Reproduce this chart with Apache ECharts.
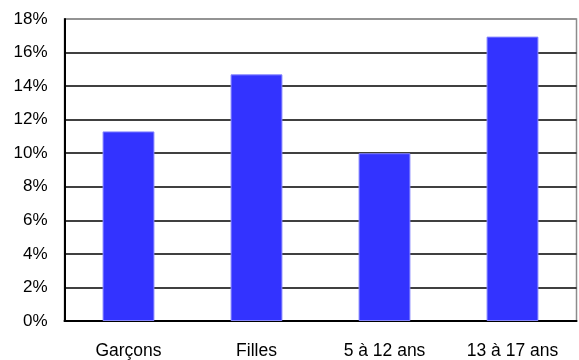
<!DOCTYPE html>
<html>
<head>
<meta charset="utf-8">
<script src="https://cdn.jsdelivr.net/npm/echarts@6/dist/echarts.min.js"></script>
<style>html,body{margin:0;padding:0;background:#fff}#c{width:579px;height:360px}</style>
</head>
<body>
<div id="c"></div>
<script>
const categories = ['Garçons', 'Filles', '5 à 12 ans', '13 à 17 ans'];
const values = [11.3, 14.7, 10.0, 16.95];
const yTicks = [0, 2, 4, 6, 8, 10, 12, 14, 16, 18];

const chart = echarts.init(document.getElementById('c'), null, {renderer: 'canvas'});
const font = 'Arial, "Liberation Sans", sans-serif';
const gridColors = yTicks.map((t, i) => i === yTicks.length - 1 ? '#8c8c8c' : '#000000');
chart.setOption({
  animation: false,
  backgroundColor: '#ffffff',
  grid: {
    left: 64.5, right: 2.5, top: 19, bottom: 36.5,
    show: true, borderColor: '#8c8c8c', borderWidth: 1.5, backgroundColor: 'transparent'
  },
  xAxis: {
    type: 'category',
    data: categories,
    axisLine: {show: true, lineStyle: {color: '#000', width: 2}},
    axisTick: {show: false},
    axisLabel: {color: '#000', fontSize: 17.5, fontFamily: font, margin: 21}
  },
  yAxis: {
    type: 'value',
    min: yTicks[0], max: yTicks[yTicks.length - 1], interval: 2,
    axisLine: {show: true, lineStyle: {color: '#000', width: 2}},
    axisTick: {show: false},
    axisLabel: {color: '#000', fontSize: 17, fontFamily: font, margin: 17,
      formatter: '{value}%', padding: [7, 0, 0, 0]},
    splitLine: {show: true, lineStyle: {color: gridColors, width: 1.6}}
  },
  series: [{
    type: 'bar',
    data: values,
    barWidth: '40.5%',
    itemStyle: {color: '#3333ff', borderColor: '#8585ff', borderWidth: 1}
  }]
});
</script>
</body>
</html>
